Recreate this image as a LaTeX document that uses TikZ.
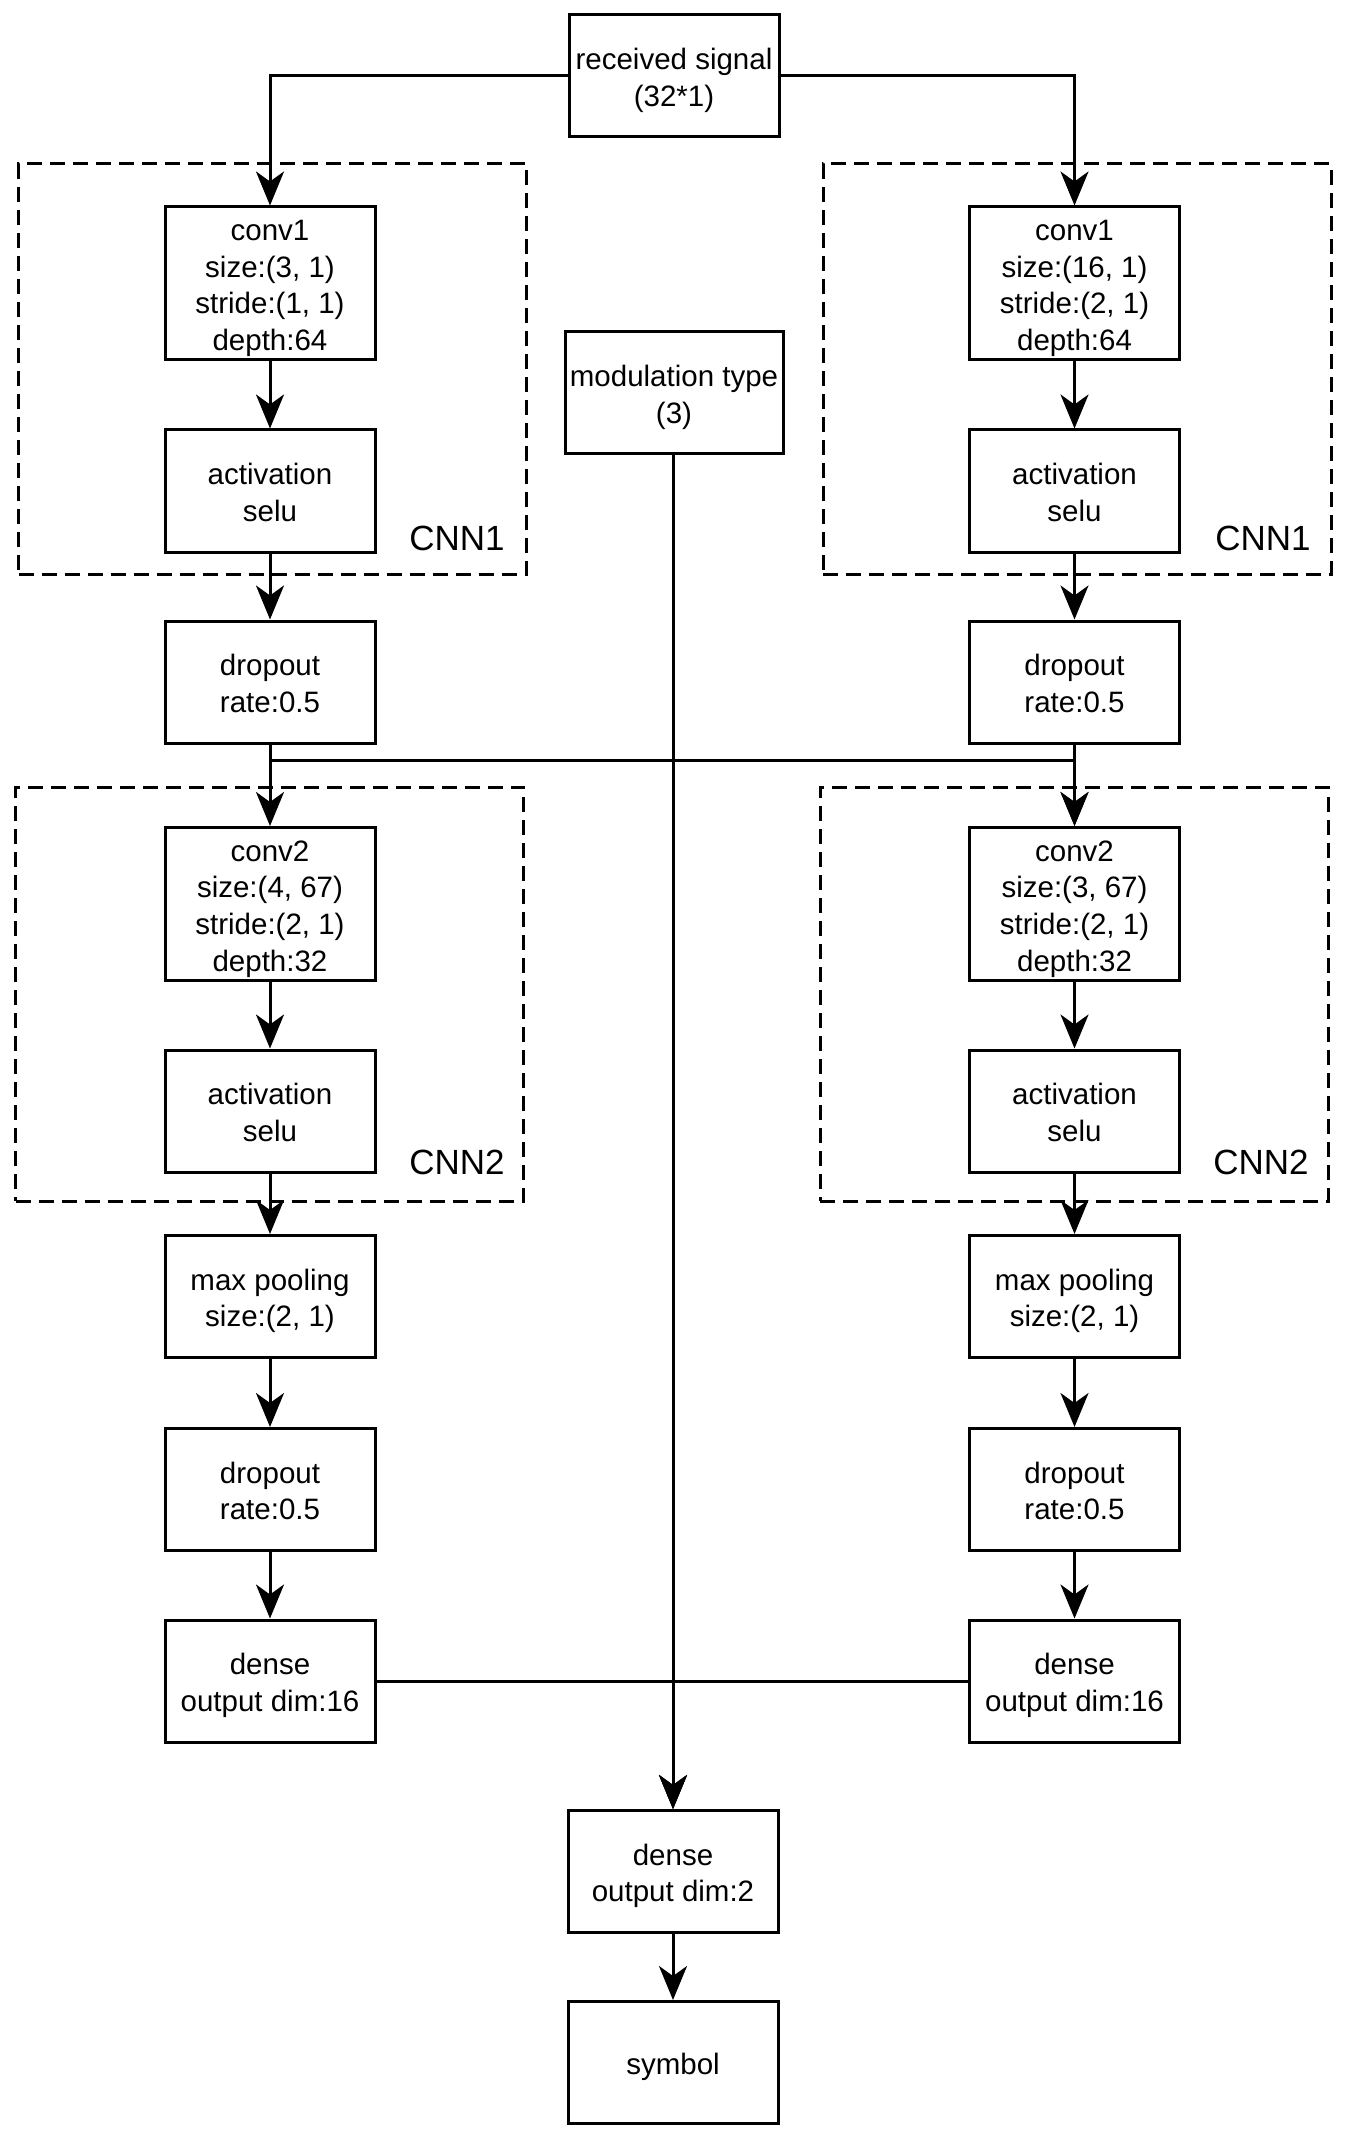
\documentclass[tikz,border=0pt]{standalone}
\usepackage{fontspec}
\setmainfont{Liberation Sans}
\usetikzlibrary{arrows.meta}
\newcommand\bt[1]{\raisebox{-2.4pt}[\height][\depth]{\begin{tabular}{@{}c@{}}#1\end{tabular}}}
\begin{document}
\begin{tikzpicture}[x=0.5pt,y=-0.5pt,
  box/.style={draw, line width=1.5pt, rectangle, inner sep=0pt, minimum width=105pt, font=\fontsize{14.75}{18.3}\selectfont},
  tallbox/.style={box, minimum height=76.5pt},
  shortbox/.style={box, minimum height=61pt},
  arr/.style={line width=1.5pt, -{Stealth[length=17pt,width=14pt,inset=5pt]}},
  grp/.style={draw, line width=1.5pt, dash pattern=on 7.5pt off 4pt, rectangle, inner sep=0pt, minimum width=254pt},
  grplabel/.style={anchor=base east, inner sep=0pt, font=\fontsize{17.5}{21}\selectfont}]
\useasboundingbox (0,0) rectangle (1347,2139);

% dashed groups
\node[grp, minimum height=205pt] (g1L) at (272.5,369) {};
\node[grp, minimum height=205pt] (g1R) at (1077,369) {};
\node[grp, minimum height=207pt] (g2L) at (269.5,994) {};
\node[grp, minimum height=207pt] (g2R) at (1074,994) {};
\node[grplabel] (l1L) at (505,550) {CNN1};
\node[grplabel] (l1R) at (1311,550) {CNN1};
\node[grplabel] (l2L) at (505,1174) {CNN2};
\node[grplabel] (l2R) at (1309,1174) {CNN2};

% top
\node[shortbox] (rs) at (674,76) {\bt{received signal\\(32*1)}};
\node[shortbox, minimum width=109pt] (mod) at (674,393) {\bt{modulation type\\(3)}};

% left column
\node[tallbox] (c1L) at (270,283.5) {\bt{conv1\\size:(3, 1)\\stride:(1, 1)\\depth:64}};
\node[shortbox] (a1L) at (270,491) {\bt{activation\\selu}};
\node[shortbox] (d1L) at (270,682) {\bt{dropout\\rate:0.5}};
\node[tallbox] (c2L) at (270,904) {\bt{conv2\\size:(4, 67)\\stride:(2, 1)\\depth:32}};
\node[shortbox] (a2L) at (270,1111) {\bt{activation\\selu}};
\node[shortbox] (pL) at (270,1296.5) {\bt{max pooling\\size:(2, 1)}};
\node[shortbox] (d2L) at (270,1489.5) {\bt{dropout\\rate:0.5}};
\node[shortbox] (eL) at (270,1681) {\bt{dense\\output dim:16}};

% right column
\node[tallbox] (c1R) at (1074.5,283.5) {\bt{conv1\\size:(16, 1)\\stride:(2, 1)\\depth:64}};
\node[shortbox] (a1R) at (1074.5,491) {\bt{activation\\selu}};
\node[shortbox] (d1R) at (1074.5,682) {\bt{dropout\\rate:0.5}};
\node[tallbox] (c2R) at (1074.5,904) {\bt{conv2\\size:(3, 67)\\stride:(2, 1)\\depth:32}};
\node[shortbox] (a2R) at (1074.5,1111) {\bt{activation\\selu}};
\node[shortbox] (pR) at (1074.5,1296.5) {\bt{max pooling\\size:(2, 1)}};
\node[shortbox] (d2R) at (1074.5,1489.5) {\bt{dropout\\rate:0.5}};
\node[shortbox] (eR) at (1074.5,1681) {\bt{dense\\output dim:16}};

% bottom
\node[shortbox] (out) at (673,1871.5) {\bt{dense\\output dim:2}};
\node[shortbox] (sym) at (673,2062.5) {\bt{symbol}};

% connectors
\draw[arr] (rs.west) -| (c1L.north);
\draw[arr] (rs.east) -| (c1R.north);
\foreach \s in {L,R}{
  \draw[arr] (c1\s) -- (a1\s);
  \draw[arr] (a1\s) -- (d1\s);
  \draw[arr] (d1\s) -- (c2\s);
  \draw[arr] (c2\s) -- (a2\s);
  \draw[arr] (a2\s) -- (p\s);
  \draw[arr] (p\s) -- (d2\s);
  \draw[arr] (d2\s) -- (e\s);
}
\draw[arr] (d1L.south) -- ++(0,16) -| (c2R.north);
\draw[arr] (mod.south -| out.north) -- (out.north);
\draw[arr] (eL.east) -| (out.north);
\draw[arr] (eR.west) -| (out.north);
\draw[arr] (out) -- (sym);
\end{tikzpicture}
\end{document}
